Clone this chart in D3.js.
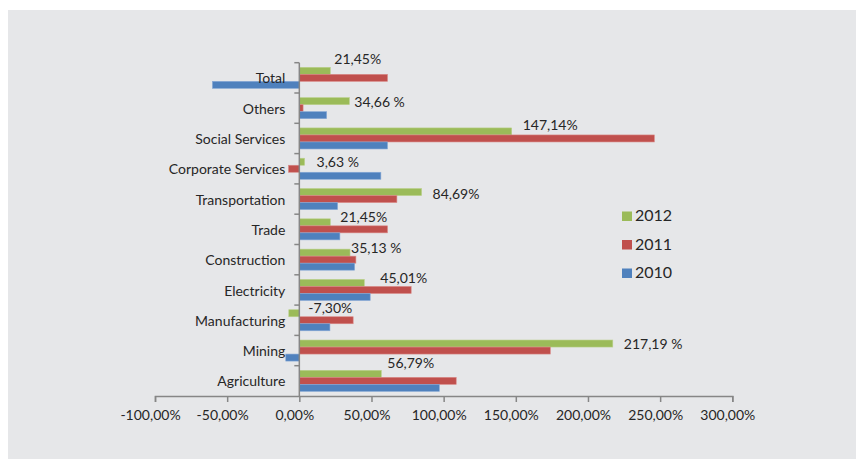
<!DOCTYPE html>
<html>
<head>
<meta charset="utf-8">
<script src="https://cdn.jsdelivr.net/npm/d3@7"></script>
<style>
  html, body { margin: 0; padding: 0; background: #ffffff; }
  svg { display: block; }
  text { font-family: Lato, "Open Sans", sans-serif; fill: #262626; }
</style>
</head>
<body>
<svg id="chart" width="856" height="459"></svg>
<script>
// ---- data ----
const categories = ["Total", "Others", "Social Services", "Corporate Services", "Transportation",
  "Trade", "Construction", "Electricity", "Manufacturing", "Mining", "Agriculture"];
const seriesNames = ["2012", "2011", "2010"];
const values2012 = [21.45, 34.66, 147.14, 3.63, 84.69, 21.45, 35.13, 45.01, -7.30, 217.19, 56.79];
const values2011 = [61.1, 2.6, 246.0, -7.5, 67.6, 61.1, 39.2, 77.5, 37.3, 173.9, 108.7];
const values2010 = [-60.2, 18.9, 61.1, 56.5, 26.5, 28.1, 38.3, 49.1, 21.2, -9.4, 97.0];
const labels2012 = ["21,45%", "34,66 %", "147,14%", "3,63 %", "84,69%", "21,45%", "35,13 %",
  "45,01%", "-7,30%", "217,19 %", "56,79%"];
const xTickValues = [-100, -50, 0, 50, 100, 150, 200, 250, 300];
// label nudges (px) relative to bar end / bar top, as placed in the original
const labelDx = [4, 5, 11, 12, 11, 10, 1, 16, 9, 11, 6];
const labelDy = [-3, 9, 2.5, 9, 10.5, 3, 4, 4, 3.5, 9, -2.5];

const colors = { "2012": "#9bbb59", "2011": "#c0504d", "2010": "#4f81bd" };
const strokeColors = { "2012": "#b9d08a", "2011": "#d98a88", "2010": "#86a8d6" };
const seriesValues = { "2012": values2012, "2011": values2011, "2010": values2010 };

const svg = d3.select("#chart");

// background panel
svg.append("rect").attr("x", 8).attr("y", 10).attr("width", 848).attr("height", 449).attr("fill", "#e6e7e9");

const x = d3.scaleLinear().domain([-100, 300]).range([155, 732.3]);
const y = d3.scaleBand().domain(categories).range([62.7, 396]);
const sub = d3.scaleBand().domain(seriesNames).range([0, y.bandwidth()]).paddingInner(0).paddingOuter(0.66);

const locale = d3.formatLocale({ decimal: ",", thousands: ".", grouping: [3], currency: ["", ""], minus: "-" });
const fmt = locale.format(".2f");

// bars
const rows = [];
categories.forEach((c, i) => {
  seriesNames.forEach(s => rows.push({ cat: c, s: s, v: seriesValues[s][i] }));
});
svg.append("g").selectAll("rect").data(rows).join("rect")
  .attr("x", d => Math.min(x(0), x(d.v)))
  .attr("y", d => y(d.cat) + sub(d.s))
  .attr("width", d => Math.abs(x(d.v) - x(0)))
  .attr("height", sub.bandwidth())
  .attr("fill", d => colors[d.s])
  .attr("stroke", d => strokeColors[d.s])
  .attr("stroke-width", 0.6);

// x axis
const xAxis = d3.axisBottom(x).tickValues(xTickValues).tickSize(6).tickPadding(8)
  .tickFormat(d => fmt(d) + "%");
const gx = svg.append("g").attr("transform", `translate(0,396)`).call(xAxis);
gx.select(".domain").attr("stroke", "#868686").attr("stroke-width", 1.5);
gx.selectAll(".tick line").attr("stroke", "#868686").attr("stroke-width", 1.5);
gx.selectAll(".tick text").attr("font-family", "Lato, sans-serif").attr("font-size", 14)
  .attr("fill", "#262626").attr("dx", -5);

// y axis: category labels
const yAxis = d3.axisLeft(y).tickSize(0).tickPadding(14);
const gy = svg.append("g").attr("transform", `translate(${x(0)},0)`).call(yAxis);
gy.select(".domain").remove();
gy.selectAll(".tick text").attr("font-family", "Lato, sans-serif").attr("font-size", 14)
  .attr("fill", "#262626").attr("dy", "0.4em");

// y axis line and boundary ticks
const yAxisG = svg.append("g");
yAxisG.append("line").attr("x1", x(0)).attr("x2", x(0)).attr("y1", y.range()[0]).attr("y2", y.range()[1])
  .attr("stroke", "#868686").attr("stroke-width", 1.5);
const boundaries = categories.map(c => y(c));
yAxisG.selectAll("line.bt").data(boundaries).join("line").attr("class", "bt")
  .attr("x1", x(0) - 5).attr("x2", x(0)).attr("y1", d => d).attr("y2", d => d)
  .attr("stroke", "#868686").attr("stroke-width", 1.5);

// data labels for 2012
svg.append("g").selectAll("text").data(categories).join("text")
  .attr("x", (c, i) => Math.max(x(0), x(values2012[i])) + labelDx[i])
  .attr("y", (c, i) => y(c) + sub("2012") + labelDy[i])
  .attr("font-size", 14)
  .text((c, i) => labels2012[i]);

// legend
const legend = svg.append("g").attr("transform", "translate(622,211.5)");
seriesNames.forEach((s, i) => {
  const g = legend.append("g").attr("transform", `translate(0,${i * 28.5})`);
  g.append("rect").attr("width", 10).attr("height", 9.5).attr("fill", colors[s]);
  g.append("text").attr("x", 13).attr("y", 9.5).attr("font-size", 16).text(s);
});
</script>
</body>
</html>
